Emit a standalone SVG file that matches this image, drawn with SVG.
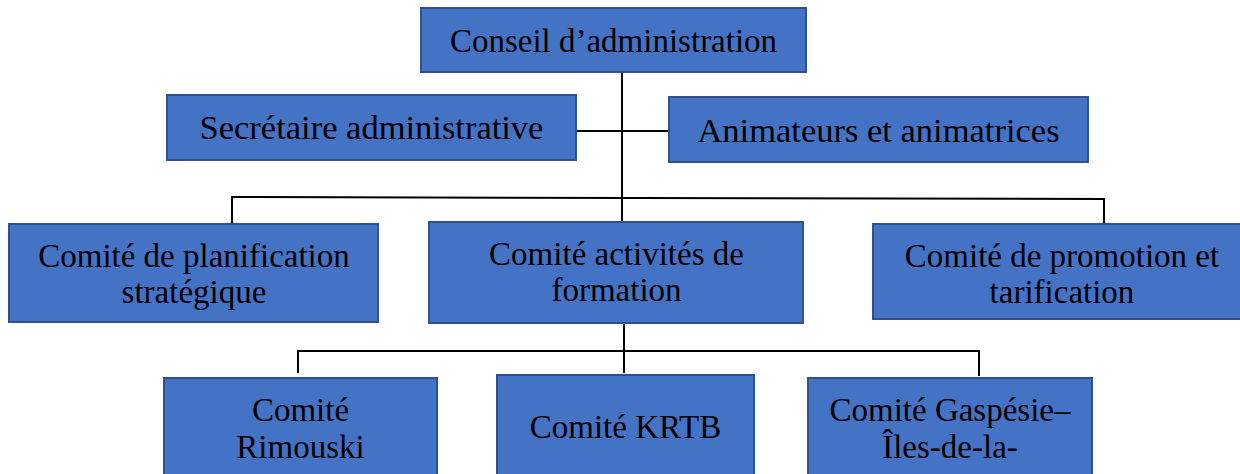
<svg xmlns="http://www.w3.org/2000/svg" width="1240" height="474" viewBox="0 0 1240 474">
<style>
.box{fill:#4472C4;stroke:#2F528F;stroke-width:2}
.t{font-family:"Liberation Serif","Times New Roman",serif;font-size:33px;fill:#000;text-anchor:middle}
.w{font-size:34.5px}
.c{fill:none;stroke:#000;stroke-width:2}
</style>
<rect width="1240" height="474" fill="#fff"/>
<g id="connectors">
<line class="c" x1="622" y1="72" x2="622" y2="223"/>
<line class="c" x1="577" y1="131" x2="669" y2="131"/>
<polyline class="c" points="232,224 232,197 1104,199 1104,223"/>
<line class="c" x1="624" y1="323" x2="624" y2="373"/>
<polyline class="c" points="298,373 298,351 979,351 979,376"/>
</g>
<g id="conseil">
<rect class="box" x="421" y="8" width="385" height="64"/>
<text class="t" x="613.5" y="52">Conseil d’administration</text>
</g>
<g id="secretaire">
<rect class="box" x="167" y="95" width="409" height="65"/>
<text class="t w" x="371.5" y="139">Secrétaire administrative</text>
</g>
<g id="animateurs">
<rect class="box" x="669" y="97" width="419" height="65"/>
<text class="t w" x="878.5" y="142">Animateurs et animatrices</text>
</g>
<g id="planification">
<rect class="box" x="9" y="224" width="369" height="98"/>
<text class="t" x="194" y="267">Comité de planification</text>
<text class="t" x="194" y="303">stratégique</text>
</g>
<g id="activites">
<rect class="box" x="429" y="222" width="374" height="101"/>
<text class="t" x="616.5" y="265">Comité activités de</text>
<text class="t" x="616.5" y="301">formation</text>
</g>
<g id="promotion">
<rect class="box" x="873" y="224" width="378" height="95"/>
<text class="t" x="1062" y="267">Comité de promotion et</text>
<text class="t" x="1062" y="303">tarification</text>
</g>
<g id="rimouski">
<rect class="box" x="164" y="378" width="273" height="110"/>
<text class="t" x="300.5" y="421">Comité</text>
<text class="t" x="300.5" y="458">Rimouski</text>
</g>
<g id="krtb">
<rect class="box" x="497" y="375" width="257" height="113"/>
<text class="t" x="625.5" y="438">Comité KRTB</text>
</g>
<g id="gaspesie">
<rect class="box" x="808" y="378" width="284" height="110"/>
<text class="t" x="950" y="421">Comité Gaspésie–</text>
<text class="t" x="950" y="458">Îles-de-la-</text>
</g>
</svg>
